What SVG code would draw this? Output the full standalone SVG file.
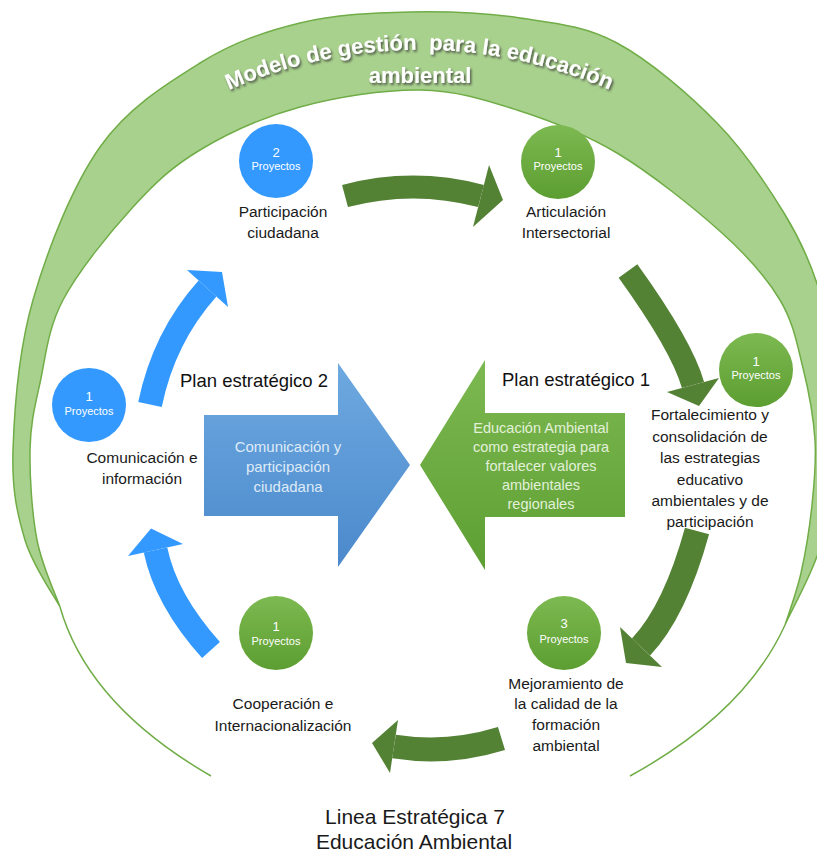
<svg xmlns="http://www.w3.org/2000/svg" width="817" height="854" viewBox="0 0 817 854">
<defs>
<linearGradient id="gG" x1="0" y1="0" x2="0" y2="1"><stop offset="0" stop-color="#7DB951"/><stop offset="1" stop-color="#5C9E31"/></linearGradient>
<linearGradient id="gBlue" x1="0" y1="0" x2="0" y2="1"><stop offset="0" stop-color="#6EA9E0"/><stop offset="1" stop-color="#4B89CC"/></linearGradient>
<linearGradient id="gGreen" x1="0" y1="0" x2="0" y2="1"><stop offset="0" stop-color="#7DB952"/><stop offset="1" stop-color="#5D9F32"/></linearGradient>
<filter id="sh" x="-10%" y="-30%" width="120%" height="160%"><feDropShadow dx="1.5" dy="2" stdDeviation="1.2" flood-color="#333" flood-opacity="0.75"/></filter>
<path id="titleArc" d="M229,90 A471,471 0 0 1 612,91"/>
<style>
text{font-family:"Liberation Sans",Arial,sans-serif}
.lbl{font-size:15.5px;fill:#1a1a1a;text-anchor:middle}
.num{font-size:13px;fill:#fff;text-anchor:middle}
.pry{font-size:11px;fill:#fff;text-anchor:middle}
.cb{fill:#3399FF}
.cg{fill:url(#gG)}
.dg{fill:none;stroke:#548235;stroke-width:23}
.dgh{fill:#548235}
.bl{fill:none;stroke:#3399FF;stroke-width:24}
.blh{fill:#3399FF}
.plan{font-size:18.5px;fill:#111}
.ttl{font-size:22px;font-weight:bold;fill:#fff}
.bot{font-size:21px;fill:#1a1a1a;text-anchor:middle}
</style>
</defs>
<rect width="817" height="854" fill="#fff"/>
<g id="ring">
<path fill="#A9D18E" stroke="#70AD47" stroke-width="1.5" d="M60,607 C54.2,595.8 32.8,566.2 25,540 C17.2,513.8 11.7,490 13,450 C14.3,410 18.5,350.5 33,300 C47.5,249.5 72.2,186.5 100,147 C127.8,107.5 166.7,83.7 200,63 C233.3,42.3 265,31.5 300,23 C335,14.5 373.3,12.8 410,12 C446.7,11.2 485.5,12.8 520,18 C554.5,23.2 584.2,25.5 617,43 C649.8,60.5 689.2,94.7 717,123 C744.8,151.3 767.3,185.7 784,213 C800.7,240.3 810.5,262 819,290 C827.5,318 833.7,359.5 835,400 C836.3,440.5 833.3,492.5 825,530 C816.7,567.5 791.7,609.2 785,625 C787.7,616.3 796.5,593 801,573 C805.5,553 809.7,527.2 812,505 C814.3,482.8 816.5,462.8 815,440 C813.5,417.2 808.8,391.3 803,368 C797.2,344.7 793.5,322.5 780,300 C766.5,277.5 749.2,257.5 722,233 C694.8,208.5 651.2,173.5 617,153 C582.8,132.5 549.8,120.5 517,110 C484.2,99.5 456.2,90.5 420,90 C383.8,89.5 336.7,97 300,107 C263.3,117 227.8,133.3 200,150 C172.2,166.7 155.8,182 133,207 C110.2,232 78.5,270.7 63,300 C47.5,329.3 45.5,358 40,383 C34.5,408 30.5,423.8 30,450 C29.5,476.2 32,513.8 37,540 C42,566.2 56.2,595.8 60,607 Z"/>
<path fill="none" stroke="#70AD47" stroke-width="1.5" d="M60,607 Q88,705 211,776 M785,625 Q745,713 630,776"/>
<text class="ttl" filter="url(#sh)"><textPath href="#titleArc">Modelo de gestión&#160; para la educación</textPath></text>
<text class="ttl" x="420" y="83" text-anchor="middle" filter="url(#sh)">ambiental</text>
</g>
<g id="plan2">
<path fill="url(#gBlue)" d="M204,415 H338 V363 L410,465 L338,567 V516 H204 Z"/>
<text x="288" y="452" font-size="15px" fill="#DEEBF7" text-anchor="middle">Comunicación y</text>
<text x="288" y="472" font-size="15px" fill="#DEEBF7" text-anchor="middle">participación</text>
<text x="288" y="492" font-size="15px" fill="#DEEBF7" text-anchor="middle">ciudadana</text>
<text class="plan" x="180" y="387">Plan estratégico 2</text>
</g>
<g id="plan1">
<path fill="url(#gGreen)" d="M625,413 V517 H485 V570 L420,465 L485,360 V413 Z"/>
<text x="541" y="433" font-size="14.5px" fill="#E2F0D9" text-anchor="middle">Educación Ambiental</text>
<text x="541" y="452" font-size="14.5px" fill="#E2F0D9" text-anchor="middle">como estrategia para</text>
<text x="541" y="471" font-size="14.5px" fill="#E2F0D9" text-anchor="middle">fortalecer valores</text>
<text x="541" y="490" font-size="14.5px" fill="#E2F0D9" text-anchor="middle">ambientales</text>
<text x="541" y="509" font-size="14.5px" fill="#E2F0D9" text-anchor="middle">regionales</text>
<text class="plan" x="502" y="386">Plan estratégico 1</text>
</g>
<g id="connectors">
<path class="dg" d="M345,196 Q413,178 481,196"/>
<polygon class="dgh" points="489,165 503,200 473,227"/>
<path class="dg" d="M628,271 Q682,346 693,385"/>
<polygon class="dgh" points="667,392 699,406 719,378"/>
<path class="dg" style="stroke-width:25" d="M697,531 Q675,611 641,647"/>
<polygon class="dgh" points="662,667 626,663 620,627"/>
<path class="dg" style="stroke-width:24" d="M501.5,738.5 Q448,755 394,746.5"/>
<polygon class="dgh" points="398,720 372,743 390,773"/>
<path class="bl" d="M211,650 Q166,600 155.5,550"/>
<polygon class="blh" points="183,544 151,528.5 128,556"/>
<path class="bl" d="M150,404.5 Q163.7,337.5 207.5,288.5"/>
<polygon class="blh" points="187,270 222,272 228,307"/>
</g>
<g id="n-participacion">
<circle class="cb" cx="276" cy="161" r="37"/>
<text class="num" x="276" y="157">2</text>
<text class="pry" x="276" y="170">Proyectos</text>
<text class="lbl" x="283" y="217">Participación</text>
<text class="lbl" x="283" y="238">ciudadana</text>
</g>
<g id="n-articulacion">
<circle class="cg" cx="558" cy="162" r="37"/>
<text class="num" x="558" y="157">1</text>
<text class="pry" x="558" y="170">Proyectos</text>
<text class="lbl" x="566" y="217">Articulación</text>
<text class="lbl" x="566" y="238">Intersectorial</text>
</g>
<g id="n-fortalecimiento">
<circle class="cg" cx="756" cy="370" r="37"/>
<text class="num" x="756" y="366">1</text>
<text class="pry" x="756" y="379">Proyectos</text>
<text class="lbl" x="710" y="420">Fortalecimiento y</text>
<text class="lbl" x="710" y="442">consolidación de</text>
<text class="lbl" x="710" y="463">las estrategias</text>
<text class="lbl" x="710" y="485">educativo</text>
<text class="lbl" x="710" y="506">ambientales y de</text>
<text class="lbl" x="710" y="527">participación</text>
</g>
<g id="n-mejoramiento">
<circle class="cg" cx="564" cy="633" r="37"/>
<text class="num" x="564" y="628">3</text>
<text class="pry" x="564" y="643">Proyectos</text>
<text class="lbl" x="566" y="689">Mejoramiento de</text>
<text class="lbl" x="566" y="709">la calidad de la</text>
<text class="lbl" x="566" y="730">formación</text>
<text class="lbl" x="566" y="751">ambiental</text>
</g>
<g id="n-cooperacion">
<circle class="cg" cx="276" cy="633" r="37"/>
<text class="num" x="276" y="631">1</text>
<text class="pry" x="276" y="645">Proyectos</text>
<text class="lbl" x="283" y="709">Cooperación e</text>
<text class="lbl" x="283" y="731">Internacionalización</text>
</g>
<g id="n-comunicacion">
<circle class="cb" cx="89" cy="405" r="37"/>
<text class="num" x="89" y="401">1</text>
<text class="pry" x="89" y="415">Proyectos</text>
<text class="lbl" x="142" y="463">Comunicación e</text>
<text class="lbl" x="142" y="484">información</text>
</g>
<g id="footer">
<text class="bot" x="415" y="824">Linea Estratégica 7</text>
<text class="bot" x="414" y="849">Educación Ambiental</text>
</g>
</svg>
